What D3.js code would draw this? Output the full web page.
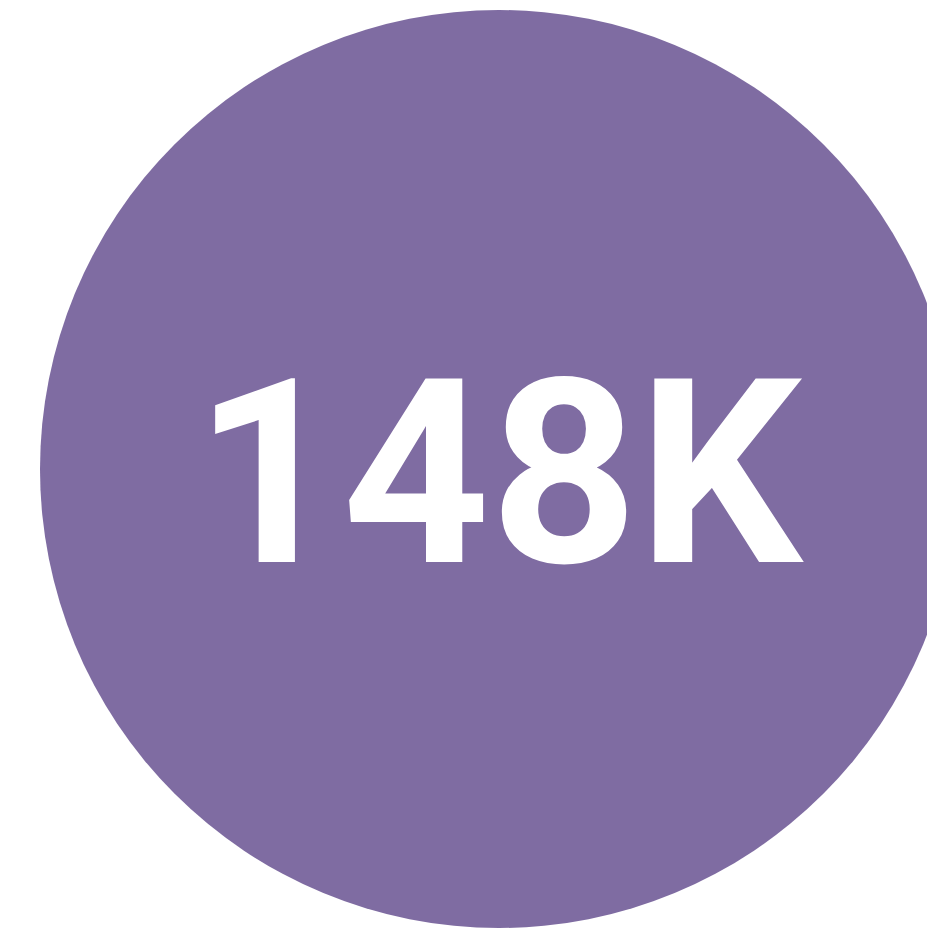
<!DOCTYPE html>
<html>
<head>
    <meta charset="utf-8">
    <title>KPI Bubble</title>
    <script src="https://d3js.org/d3.v7.min.js"></script>
    <style>
        html, body {
            margin: 0;
            padding: 0;
            background: #ffffff;
            overflow: hidden;
        }
        .kpi-label {
            font-family: Roboto, Arial, sans-serif;
            font-weight: 700;
            fill: #ffffff;
        }
    </style>
</head>
<body>
    <div id="chart"></div>

    <script>
        // Data
        const metrics = ["Total"];
        const values = [148000];
        const colors = ["#7f6ca2"];

        const width = 927;
        const height = 929;

        const svg = d3.select("#chart")
            .append("svg")
            .attr("width", width)
            .attr("height", height);

        // Radius scale: area proportional to value
        const r = d3.scaleSqrt()
            .domain([0, d3.max(values)])
            .range([0, 459]);

        const cx = 499;
        const cy = 469;

        const fmt = v => d3.format(".3s")(v).toUpperCase();

        const node = svg.selectAll(".bubble")
            .data(metrics.map((m, i) => ({name: m, value: values[i], color: colors[i]})))
            .enter()
            .append("g")
            .attr("class", "bubble")
            .attr("transform", `translate(${cx},${cy})`);

        node.append("circle")
            .attr("r", d => r(d.value))
            .attr("fill", d => d.color);

        node.append("text")
            .attr("class", "kpi-label")
            .attr("text-anchor", "middle")
            .attr("x", -1)
            .attr("y", 93)
            .style("font-size", "258px")
            .text(d => fmt(d.value));
    </script>
</body>
</html>
